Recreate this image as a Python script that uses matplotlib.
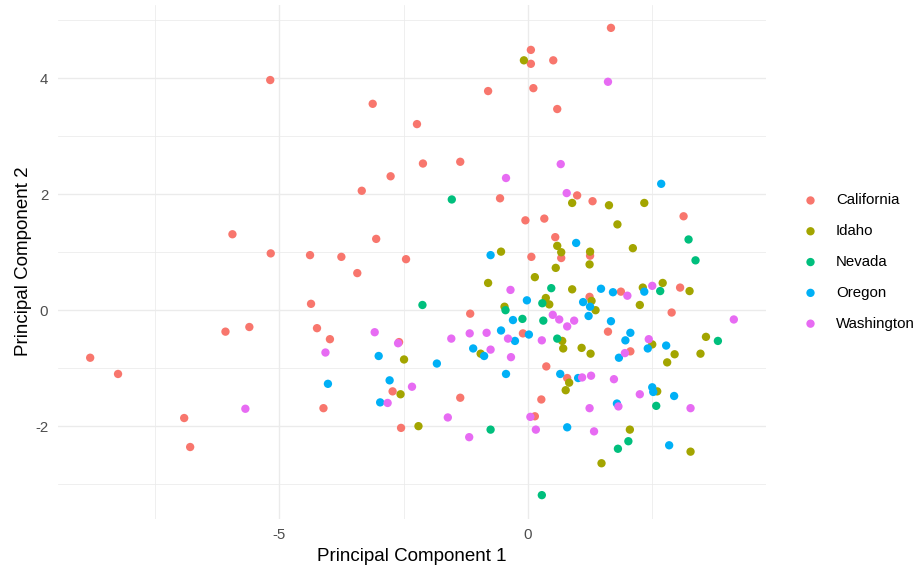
import matplotlib
matplotlib.use("Agg")
import matplotlib.pyplot as plt
from matplotlib.ticker import FixedLocator

plt.rcParams['font.family'] = ['Liberation Sans', 'DejaVu Sans']
plt.rcParams['axes.unicode_minus'] = False

states = ["California", "Idaho", "Nevada", "Oregon", "Washington"]
colors = ["#F8766D", "#A3A500", "#00BF7D", "#00B0F6", "#E76BF3"]

california_pc1 = [-5.18, -5.94, -5.17, 0.06, 0.06, -0.80, -3.12, -2.23, -2.11, -1.36,
                  -2.76, -3.34, -0.56, -0.05, -3.05, -4.38, -3.75, -2.45, 1.67, 0.51,
                  0.11, 0.59, 0.99, 1.30, 3.13, 0.33, 0.55, 0.07, 0.67, 1.25,
                  -6.08, -5.60, -8.80, -8.24, -6.91, -6.79, -3.43, -4.36, -4.24, -3.98,
                  -2.59, -2.72, -4.11, -2.55, 1.24, -1.16, -0.10, 1.61, 0.37, 0.79,
                  -1.36, 0.27, 0.14, 1.87, 3.06, 2.89, 2.06]
california_pc2 = [3.97, 1.31, 0.98, 4.49, 4.25, 3.78, 3.56, 3.21, 2.53, 2.56,
                  2.31, 2.06, 1.93, 1.55, 1.23, 0.95, 0.92, 0.88, 4.87, 4.31,
                  3.83, 3.47, 1.98, 1.88, 1.62, 1.58, 1.26, 0.92, 0.90, 0.94,
                  -0.37, -0.29, -0.82, -1.10, -1.86, -2.36, 0.64, 0.11, -0.31, -0.50,
                  -0.55, -1.40, -1.69, -2.03, 0.23, -0.06, -0.40, -0.37, -0.97, -1.17,
                  -1.51, -1.54, -1.83, 0.32, 0.39, -0.04, -0.71]

idaho_pc1 = [-0.08, -0.54, 0.89, 1.63, 2.34, 1.80, 0.59, 0.67, 1.25, 2.11,
             -2.49, -2.56, -2.20, 0.56, 0.14, 1.24, -0.80, 0.89, 0.36, 0.43,
             1.28, 1.36, -0.47, 0.69, 0.71, 1.08, 1.26, -0.95, 0.83, 0.76,
             1.48, 2.31, 2.71, 3.25, 2.25, 2.50, 3.58, 2.95, 2.80, 3.47,
             2.60, 2.05, 3.27]
idaho_pc2 = [4.31, 1.01, 1.85, 1.81, 1.85, 1.48, 1.11, 1.00, 1.01, 1.07,
             -0.85, -1.45, -2.00, 0.73, 0.57, 0.79, 0.47, 0.36, 0.21, 0.10,
             0.16, 0.00, 0.06, -0.53, -0.66, -0.65, -0.75, -0.75, -1.25, -1.38,
             -2.64, 0.39, 0.47, 0.33, 0.09, -0.59, -0.46, -0.76, -0.90, -0.75,
             -1.40, -2.06, -2.44]

nevada_pc1 = [-1.53, 3.23, 3.37, -2.12, 0.47, 0.29, -0.45, -0.11, 0.31, 0.59,
              -0.75, 0.28, 2.66, 3.82, 2.58, 2.02, 1.81]
nevada_pc2 = [1.91, 1.22, 0.86, 0.09, 0.38, 0.12, 0.00, -0.15, -0.18, -0.49,
              -2.06, -3.19, 0.33, -0.53, -1.65, -2.26, -2.39]

oregon_pc1 = [-0.75, 2.68, 0.97, -3.00, -1.83, -4.02, -2.78, -2.97, 1.47, -0.02,
              1.11, 1.25, -0.30, 1.22, 1.67, -0.54, 0.02, -0.26, -1.10, -0.88,
              -0.44, 0.65, 1.01, 0.79, 1.71, 2.34, 2.06, 1.96, 2.41, 2.78,
              1.83, 2.50, 2.52, 2.94, 1.79, 2.84]
oregon_pc2 = [0.95, 2.18, 1.16, -0.79, -0.92, -1.27, -1.21, -1.59, 0.37, 0.17,
              0.14, 0.06, -0.17, -0.10, -0.19, -0.35, -0.42, -0.53, -0.66, -0.79,
              -1.10, -1.10, -1.17, -2.02, 0.31, 0.32, -0.39, -0.52, -0.66, -0.61,
              -0.82, -1.33, -1.41, -1.48, -1.61, -2.33]

washington_pc1 = [-0.44, 1.61, 0.66, 0.78, -5.68, -3.08, -2.61, -4.07, -2.33, -2.82,
                  -1.61, -0.35, 0.50, 0.63, 0.93, 0.79, -1.54, -1.17, -0.83, -0.40,
                  0.28, -0.75, -0.34, 1.09, 1.27, 1.24, 0.05, -1.18, 0.16, 1.33,
                  2.00, 2.50, 4.14, 2.43, 1.95, 1.73, 2.25, 1.82, 3.27]
washington_pc2 = [2.28, 3.94, 2.52, 2.02, -1.70, -0.38, -0.57, -0.73, -1.32, -1.60,
                  -1.85, 0.35, -0.08, -0.16, -0.18, -0.28, -0.49, -0.40, -0.39, -0.49,
                  -0.52, -0.68, -0.81, -1.16, -1.13, -1.69, -1.84, -2.19, -2.06, -2.09,
                  0.25, 0.42, -0.16, -0.50, -0.74, -1.19, -1.45, -1.66, -1.69]

series = [
    (california_pc1, california_pc2),
    (idaho_pc1, idaho_pc2),
    (nevada_pc1, nevada_pc2),
    (oregon_pc1, oregon_pc2),
    (washington_pc1, washington_pc2),
]

x_major = [-5, 0]
x_minor = [-7.5, -2.5, 2.5]
y_major = [-2, 0, 2, 4]
y_minor = [-3, -1, 1, 3, 5]

fig = plt.figure(figsize=(9.22, 5.69), dpi=100)
ax = fig.add_axes([58 / 922, 1 - 518.5 / 569, (766 - 58) / 922, (518.5 - 4.5) / 569])

for name, col, (xs, ys) in zip(states, colors, series):
    ax.scatter(xs, ys, s=36, color=col, edgecolors='none', label=name, zorder=3)

ax.margins(0.05)
ax.xaxis.set_major_locator(FixedLocator(x_major))
ax.xaxis.set_minor_locator(FixedLocator(x_minor))
ax.yaxis.set_major_locator(FixedLocator(y_major))
ax.yaxis.set_minor_locator(FixedLocator(y_minor))
ax.grid(which='major', color='#EBEBEB', linewidth=1.0, zorder=0)
ax.grid(which='minor', color='#EBEBEB', linewidth=0.55, zorder=0)
ax.set_axisbelow(True)
for sp in ax.spines.values():
    sp.set_visible(False)
ax.tick_params(which='both', length=0)
ax.tick_params(axis='x', labelsize=10.8, labelcolor='#4D4D4D', pad=7)
ax.tick_params(axis='y', labelsize=10.8, labelcolor='#4D4D4D', pad=7)
ax.set_xlabel("Principal Component 1", fontsize=13.5, color='black', labelpad=4)
ax.set_ylabel("Principal Component 2", fontsize=13.5, color='black', labelpad=2)

leg = ax.legend(loc='center left', bbox_to_anchor=(803 / 922, 1 - 262 / 569),
                bbox_transform=fig.transFigure, frameon=False, fontsize=10.8,
                handlelength=1.0, handletextpad=1.2, labelspacing=1.12,
                borderpad=0, borderaxespad=0, scatterpoints=1)

fig.savefig("out.png", dpi=100, facecolor='white')
